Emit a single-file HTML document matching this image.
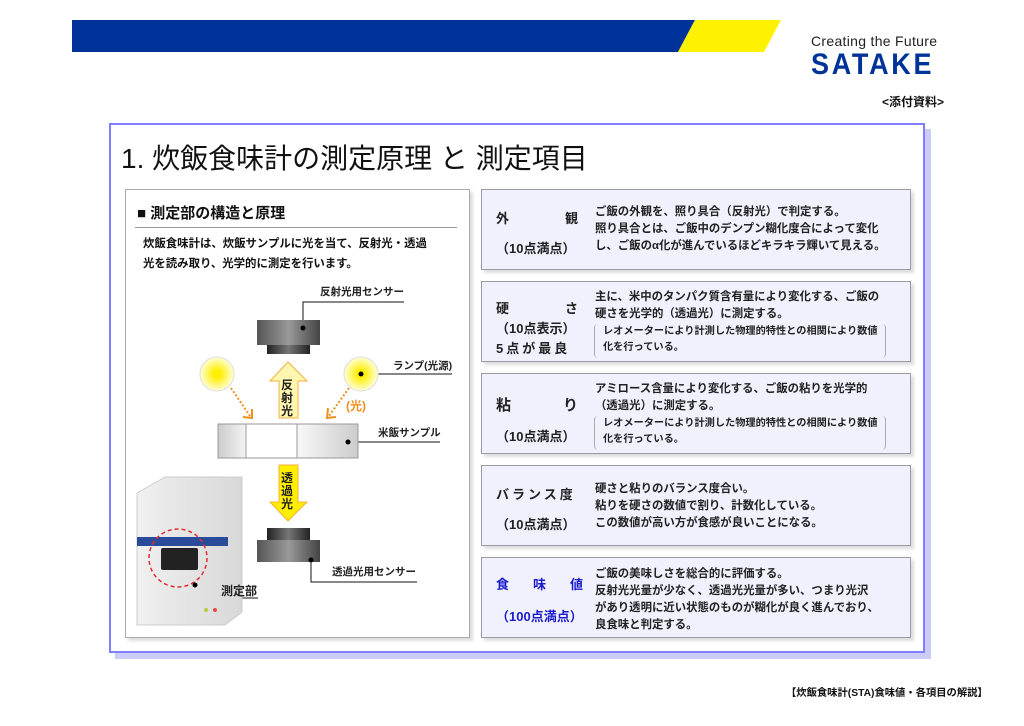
<!DOCTYPE html>
<html><head><meta charset="utf-8"><style>
*{margin:0;padding:0;box-sizing:border-box}
body{width:1024px;height:726px;background:#fff;position:relative;overflow:hidden;font-family:"Liberation Sans","Noto Sans CJK JP",sans-serif;color:#111}
.a{position:absolute}
.box{position:absolute;left:481px;width:430px;height:81px;background:#f1f1fd;border:1px solid #9a9aa8;box-shadow:3px 3px 3px #ddd}
.lab{position:absolute;left:14px;font-size:13px;font-weight:bold;color:#222;white-space:nowrap}
.txt{position:absolute;left:113px;font-size:11.4px;line-height:17px;font-weight:bold;color:#222;white-space:nowrap}
.sub{position:absolute;left:112px;width:292px;height:34px;border-left:1px solid #aaa;border-right:1px solid #aaa;border-radius:4px;font-size:10.2px;line-height:16px;padding-left:8px;font-weight:bold;color:#222;white-space:nowrap}
</style></head><body>
<svg class="a" style="left:0;top:0" width="1024" height="60">
<polygon points="72,20 695,20 678,52 72,52" fill="#003399"/>
<polygon points="695,20 781,20 764,52 678,52" fill="#fff200"/>
</svg>
<div class="a" style="left:811px;top:33px;font-size:14px;color:#222;letter-spacing:0.3px">Creating the Future</div>
<div class="a" style="left:811px;top:48px;font-size:30px;font-weight:bold;color:#003399;letter-spacing:3px;transform:scaleX(0.9);transform-origin:left">SATAKE</div>
<div class="a" style="left:882px;top:93px;font-size:12px;font-weight:bold">&lt;添付資料&gt;</div>

<div class="a" style="left:115px;top:129px;width:816px;height:530px;background:#ccccf8"></div>
<div class="a" style="left:109px;top:123px;width:816px;height:530px;background:#fff;border:2px solid #8080ff"></div>
<div class="a" style="left:121px;top:137px;font-size:28px;color:#111;white-space:nowrap">1. 炊飯食味計の測定原理 と 測定項目</div>

<div class="a" style="left:125px;top:189px;width:345px;height:449px;border:1px solid #aaa;box-shadow:3px 3px 3px #ddd;background:#fff"></div>
<div class="a" style="left:137px;top:202px;font-size:15px;font-weight:bold">■ 測定部の構造と原理</div>
<div class="a" style="left:135px;top:227px;width:322px;height:1px;background:#999"></div>
<div class="a" style="left:143px;top:234px;font-size:11.4px;line-height:20px;font-weight:bold;white-space:nowrap">炊飯食味計は、炊飯サンプルに光を当て、反射光・透過<br>光を読み取り、光学的に測定を行います。</div>

<svg class="a" style="left:0;top:0" width="480" height="660">
<defs>
<linearGradient id="g1" x1="0" x2="1"><stop offset="0" stop-color="#555"/><stop offset="0.5" stop-color="#999"/><stop offset="1" stop-color="#444"/></linearGradient>
<linearGradient id="g2" x1="0" x2="1"><stop offset="0" stop-color="#222"/><stop offset="0.5" stop-color="#777"/><stop offset="1" stop-color="#222"/></linearGradient>
<radialGradient id="lm"><stop offset="0.2" stop-color="#ffee00"/><stop offset="1" stop-color="#ffffd8"/></radialGradient>
<linearGradient id="sm" x1="0" x2="1"><stop offset="0" stop-color="#ccc"/><stop offset="1" stop-color="#f4f4f4"/></linearGradient>
<linearGradient id="sm2" x1="0" x2="1"><stop offset="0" stop-color="#f8f8f8"/><stop offset="1" stop-color="#ccc"/></linearGradient>
<linearGradient id="mc" x1="0" x2="1"><stop offset="0" stop-color="#f0f0f0"/><stop offset="1" stop-color="#d8d8d8"/></linearGradient>
</defs>
<g stroke="#111" fill="none" stroke-width="1">
<polyline points="404,302 303,302 303,328"/>
<line x1="361" y1="374" x2="452" y2="374"/>
<line x1="348" y1="442" x2="440" y2="442"/>
<polyline points="311,560 311,582 417,582"/>
<polyline points="195,585 195,598 258,598"/>
</g>
<rect x="257" y="320" width="63" height="25" fill="url(#g1)"/>
<rect x="267" y="345" width="43" height="9" fill="url(#g2)"/>
<circle cx="303" cy="328" r="2.5" fill="#000"/>
<circle cx="217" cy="374" r="17" fill="url(#lm)" stroke="#ddd"/>
<circle cx="361" cy="374" r="17" fill="url(#lm)" stroke="#ddd"/>
<circle cx="361" cy="374" r="2.5" fill="#000"/>
<polygon points="288,362 307,381 298,381 298,418 279,418 279,381 270,381" fill="#fff6b0" stroke="#f4b040"/>
<polygon points="279,465 298,465 298,502 307,502 288,521 270,502 279,502" fill="#ffee00" stroke="#f4b040"/>
<g stroke="#f09020" stroke-width="2" stroke-dasharray="2,2" fill="none">
<line x1="231" y1="388" x2="250" y2="416"/><line x1="349" y1="388" x2="329" y2="416"/></g>
<polyline points="243,417 252,418 252,409" stroke="#f09020" stroke-width="2" fill="none"/>
<polyline points="328,408 327,418 336,417" stroke="#f09020" stroke-width="2" fill="none"/>
<rect x="218" y="424" width="28" height="34" fill="url(#sm)" stroke="#999"/>
<rect x="246" y="424" width="51" height="34" fill="#fff" stroke="#999"/>
<rect x="297" y="424" width="61" height="34" fill="url(#sm2)" stroke="#999"/>
<circle cx="348" cy="442" r="2.5" fill="#000"/>
<rect x="267" y="528" width="43" height="12" fill="url(#g2)"/>
<rect x="257" y="540" width="63" height="22" fill="url(#g1)"/>
<circle cx="311" cy="560" r="2.5" fill="#000"/>
<polygon points="137,493 165,477 242,477 242,612 225,625 137,625" fill="url(#mc)" stroke="#ccc"/>
<polygon points="137,537 228,537 228,546 137,546" fill="#2a4a9a"/>
<rect x="161" y="548" width="37" height="22" fill="#222" rx="2"/>
<circle cx="178" cy="558" r="29" fill="none" stroke="#e03030" stroke-width="1.5" stroke-dasharray="4,3"/>
<circle cx="195" cy="585" r="2.5" fill="#000"/>
<circle cx="206" cy="610" r="2" fill="#bc3"/><circle cx="215" cy="610" r="2" fill="#e44"/>
<g font-size="10.5" font-weight="bold" fill="#222" font-family="Liberation Sans,Noto Sans CJK JP,sans-serif">
<text x="320" y="295">反射光用センサー</text>
<text x="393" y="369">ランプ(光源)</text>
<text x="378" y="436">米飯サンプル</text>
<text x="332" y="575">透過光用センサー</text>
<text x="221" y="595" font-size="12">測定部</text>
<text x="346" y="410" fill="#f09020" font-size="12">(光)</text>
<text x="281" y="389" font-size="12">反</text><text x="281" y="402" font-size="12">射</text><text x="281" y="415" font-size="12">光</text>
<text x="281" y="482" font-size="12">透</text><text x="281" y="495" font-size="12">過</text><text x="281" y="508" font-size="12">光</text>
</g>
</svg>

<div class="box" style="top:189px">
<div class="lab" style="top:18px">外<span style="margin-left:56px">観</span></div>
<div class="lab" style="top:48px">（10点満点）</div>
<div class="txt" style="top:14px">ご飯の外観を、照り具合（反射光）で判定する。<br>照り具合とは、ご飯中のデンプン糊化度合によって変化<br>し、ご飯のα化が進んでいるほどキラキラ輝いて見える。</div>
</div>
<div class="box" style="top:281px">
<div class="lab" style="top:16px">硬<span style="margin-left:56px">さ</span></div>
<div class="lab" style="top:36px">（10点表示）</div>
<div class="lab" style="top:56px;letter-spacing:3px">5点が最良</div>
<div class="txt" style="top:7px">主に、米中のタンパク質含有量により変化する、ご飯の<br>硬さを光学的（透過光）に測定する。</div>
<div class="sub" style="top:42px">レオメーターにより計測した物理的特性との相関により数値<br>化を行っている。</div>
</div>
<div class="box" style="top:373px">
<div class="lab" style="top:20px;font-size:15px">粘<span style="margin-left:52px">り</span></div>
<div class="lab" style="top:52px">（10点満点）</div>
<div class="txt" style="top:7px">アミロース含量により変化する、ご飯の粘りを光学的<br>（透過光）に測定する。</div>
<div class="sub" style="top:42px">レオメーターにより計測した物理的特性との相関により数値<br>化を行っている。</div>
</div>
<div class="box" style="top:465px">
<div class="lab" style="top:18px;letter-spacing:3px">バランス度</div>
<div class="lab" style="top:48px">（10点満点）</div>
<div class="txt" style="top:15px">硬さと粘りのバランス度合い。<br>粘りを硬さの数値で割り、計数化している。<br>この数値が高い方が食感が良いことになる。</div>
</div>
<div class="box" style="top:557px">
<div class="lab" style="top:16px;color:#1a1acc">食<span style="margin-left:24px">味</span><span style="margin-left:24px">値</span></div>
<div class="lab" style="top:48px;color:#1a1acc">（100点満点）</div>
<div class="txt" style="top:8px">ご飯の美味しさを総合的に評価する。<br>反射光光量が少なく、透過光光量が多い、つまり光沢<br>があり透明に近い状態のものが糊化が良く進んでおり、<br>良食味と判定する。</div>
</div>

<div class="a" style="left:786px;top:684px;font-size:10.3px;font-weight:bold;white-space:nowrap">【炊飯食味計(STA)食味値・各項目の解説】</div>
</body></html>
